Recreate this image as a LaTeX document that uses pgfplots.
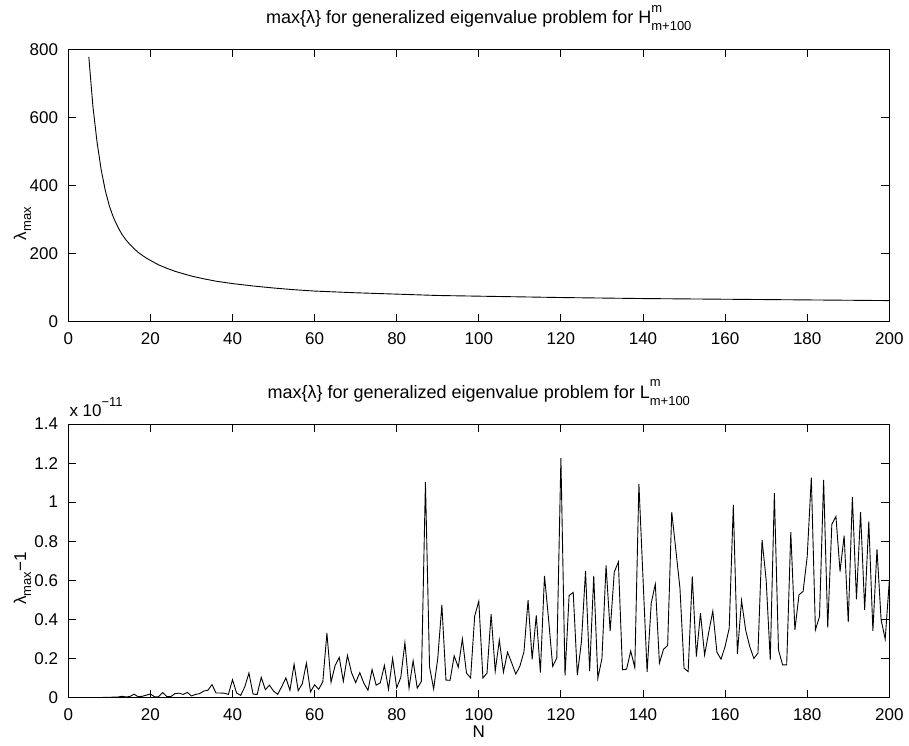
\documentclass[border=0pt]{standalone}
\usepackage{fontspec}
\setmainfont{Liberation Sans}
\usepackage{pgfplots}
\pgfplotsset{compat=1.18}
\newcommand{\tf}{\fontsize{17}{20}\selectfont}
\newcommand{\ttf}{\fontsize{18}{21}\selectfont}
\newcommand{\sm}{\fontsize{13}{14}\selectfont}
\newcommand{\supsub}{\rlap{\raisebox{0.62em}{\sm m}}\raisebox{-0.42em}{\sm m+100}}
\pgfplotsset{
 mstyle/.style={
  scale only axis, width=821pt, anchor=south west,
  xmin=0, xmax=200, xtick={0,20,...,200},
  tick align=inside, tick pos=both, major tick length=8pt,
  axis line style={line width=0.9pt},
  every tick/.style={black, line width=0.9pt},
  /pgf/number format/assume math mode=true,
  every tick label/.append style={font=\tf, inner sep=0pt},
  xticklabel style={anchor=north, yshift=-10.5pt},
  yticklabel style={anchor=east, xshift=-10pt},
  title style={font=\ttf, at={(0.5,1)}, anchor=base, yshift=20pt, inner sep=0pt},
  label style={font=\tf, inner sep=0pt},
 }
}
\begin{document}
\begin{tikzpicture}
\path[use as bounding box] (0pt,0pt) rectangle (909pt,745pt);
\begin{axis}[mstyle,
  at={(68.3pt,423.3pt)}, height=272.3pt,
  ymin=0, ymax=800, ytick={0,200,...,800},
  title={max\{λ\} for generalized eigenvalue problem for H\supsub},
  ylabel={λ\raisebox{-0.3em}{\sm max}},
  ylabel style={at={(axis description cs:-0.0515,0.36)}, anchor=base, rotate=0},
]
\addplot[black, line width=0.9pt] table {
x y
5 778
6 632
7 528
8 447
9 386
10 340
11 306
12 280
13 258
14 241
15 227
16 215
17 204
18 195
19 187
20 180
22 167
24 157
26 148
28 141
30 134
33 126
36 119
40 112
45 105
50 99
55 94
60 90
70 85
80 81
90 77
100 75
110 73
120 71
130 69.5
140 68
150 67
160 66
170 65
180 64
190 63
200 62
};
\end{axis}
\begin{axis}[mstyle, name=bot,
  at={(68.3pt,47.5pt)}, height=273.5pt,
  ymin=0, ymax=1.4, ytick={0,0.2,...,1.4},
  yticklabels={0,0.2,0.4,0.6,0.8,1,1.2,1.4},
  title={max\{λ\} for generalized eigenvalue problem for L\supsub},
  ylabel={λ\raisebox{-0.3em}{\sm max}−1},
  ylabel style={at={(axis description cs:-0.0515,0.435)}, anchor=base, rotate=0},
  xlabel={N},
  xlabel style={at={(axis description cs:0.5,0)}, anchor=base, yshift=-40pt},
]
\addplot[black, line width=0.9pt] table {
x y
5 0
6 0
7 0
8 0
9 0.001
10 0.001
11 0.002
12 0.002
13 0.006
14 0.003
15 0.005
16 0.017
17 0.004
18 0.006
19 0.012
20 0.018
21 0.004
22 0.004
23 0.026
24 0.005
25 0.005
26 0.02
27 0.022
28 0.016
29 0.026
30 0.008
31 0.016
32 0.02
33 0.033
34 0.037
35 0.066
36 0.023
37 0.023
38 0.022
39 0.016
40 0.091
41 0.023
42 0.011
43 0.055
44 0.125
45 0.018
46 0.015
47 0.103
48 0.04
49 0.063
50 0.033
51 0.016
52 0.056
53 0.1
54 0.037
55 0.17
56 0.035
57 0.07
58 0.176
59 0.029
60 0.065
61 0.042
62 0.081
63 0.33
64 0.078
65 0.164
66 0.205
67 0.083
68 0.216
69 0.127
70 0.076
71 0.127
72 0.073
73 0.037
74 0.143
75 0.063
76 0.075
77 0.164
78 0.042
79 0.2
80 0.05
81 0.103
82 0.281
83 0.048
84 0.188
85 0.048
86 0.082
87 1.103
88 0.157
89 0.044
90 0.2
91 0.474
92 0.089
93 0.088
94 0.213
95 0.155
96 0.3
97 0.125
98 0.1
99 0.417
100 0.493
101 0.1
102 0.125
103 0.427
104 0.135
105 0.294
106 0.13
107 0.232
108 0.178
109 0.12
110 0.16
111 0.234
112 0.498
113 0.195
114 0.42
115 0.128
116 0.623
117 0.4
118 0.159
119 0.203
120 1.225
121 0.112
122 0.522
123 0.538
124 0.115
125 0.285
126 0.648
127 0.135
128 0.623
129 0.098
130 0.2
131 0.676
132 0.34
133 0.642
134 0.694
135 0.142
136 0.145
137 0.238
138 0.153
139 1.094
140 0.61
141 0.131
142 0.483
143 0.58
144 0.176
145 0.247
146 0.266
147 0.949
148 0.755
149 0.56
150 0.15
151 0.133
152 0.62
153 0.21
154 0.432
155 0.218
156 0.333
157 0.442
158 0.232
159 0.196
160 0.261
161 0.355
162 0.986
163 0.224
164 0.497
165 0.346
166 0.261
167 0.2
168 0.227
169 0.807
170 0.602
171 0.193
172 1.046
173 0.244
174 0.167
175 0.167
176 0.846
177 0.346
178 0.526
179 0.543
180 0.722
181 1.126
182 0.346
183 0.415
184 1.114
185 0.358
186 0.887
187 0.927
188 0.645
189 0.829
190 0.386
191 1.026
192 0.503
193 0.949
194 0.449
195 0.901
196 0.341
197 0.759
198 0.398
199 0.299
200 0.597
};
\end{axis}
\node[anchor=base west, font=\tf, inner sep=0pt] at (bot.north west) [xshift=1pt, yshift=8pt] {x 10\raisebox{0.55em}{\sm −11}};
\end{tikzpicture}
\end{document}
